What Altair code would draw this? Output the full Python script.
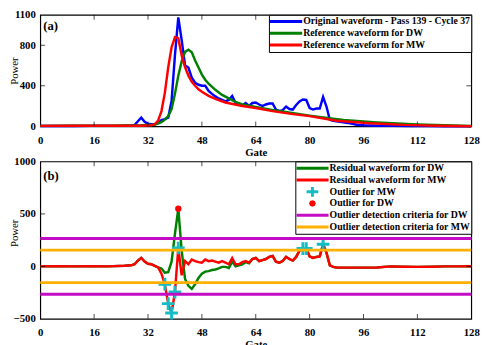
import altair as alt
import pandas as pd

FONT = "Liberation Serif"

# ---------------- axis ticks ----------------
gate_ticks = [0, 16, 32, 48, 64, 80, 96, 112, 128]
inner_gate_ticks = [16, 32, 48, 64, 80, 96, 112]
power_ticks_a = [0, 400, 800, 1100]
inner_power_ticks_a = [400, 800]
power_ticks_b = [-500, 0, 500, 1000]
inner_power_ticks_b = [0, 500]
panel_labels = ["(a)", "(b)"]

# ---------------- panel (a) ----------------
names_a = ["Original waveform - Pass 139 - Cycle 37",
           "Reference waveform for DW",
           "Reference waveform for MW"]
colors_a = ["#0000ff", "#008000", "#ff0000"]

orig_gate = [0, 5, 10, 15, 20, 25,
             27, 28, 29, 30, 31, 32, 33, 34, 35, 36, 37, 38, 39, 40,
             41, 42, 43, 44, 45, 46, 47, 48, 49, 50, 51, 52, 53, 54,
             55, 56, 57, 58, 59, 60, 61, 62, 63, 64, 65, 66, 67, 68,
             69, 70, 71, 72, 73, 74, 75, 76, 77, 78, 79, 80, 81, 82,
             83, 84, 85, 86, 87, 88,
             90, 92, 94, 96, 100, 105, 110, 115, 120, 128]
orig_power = [2, 3, 3, 4, 4, 5,
              8, 12, 50, 85, 45, 25, 20, 20, 30, 62, 70, 85, 250, 700,
              1075, 850, 600, 580, 480, 430, 410, 400, 400, 350, 320, 295, 275, 260,
              245, 260, 300, 230, 215, 205, 230, 200, 230, 235, 215, 200, 215, 225,
              225, 165, 150, 160, 195, 170, 165, 210, 245, 265, 260, 180, 165, 175,
              175, 290, 195, 65, 55, 50,
              40, 30, 15, 10, 5, 4, 3, 2, 1, 0]

dw_gate = [0, 10, 20, 30, 34, 36, 37, 38, 39, 40, 41, 42, 43, 44, 45, 46, 47,
           48, 49, 50, 52, 54, 56, 58, 60, 64, 70, 80, 90, 100, 112, 128]
dw_power = [4, 5, 6, 10, 15, 40, 65, 100, 170, 320, 500, 640, 735, 755, 730, 650, 580,
            510, 460, 420, 360, 310, 275, 240, 215, 190, 155, 105, 62, 38, 18, 2]

mw_gate = [0, 10, 20, 30, 33, 34, 35, 36, 37, 38, 39, 40, 41, 42, 43, 44, 45,
           46, 47, 48, 50, 52, 55, 60, 64, 69, 75, 80, 88, 98, 108, 118, 128]
mw_power = [4, 5, 5, 6, 10, 20, 55, 150, 330, 580, 780, 880, 870, 700, 585, 500, 440,
            400, 365, 340, 300, 270, 235, 200, 180, 150, 120, 100, 55, 30, 14, 6, 0]

# ---------------- panel (b) ----------------
names_b = ["Residual waveform for DW",
           "Residual waveform for MW",
           "Outlier for MW",
           "Outlier for DW",
           "Outlier detection criteria for DW",
           "Outlier detection criteria for MW"]
colors_b = ["#008000", "#ff0000", "#16bcc4", "#ff0000", "#c40cc4", "#ffb000"]
kinds_b = ["line", "line", "cross", "dot", "line", "line"]

res_gate = [0, 5, 10, 15, 20, 25,
            27, 28, 29, 30, 31, 32, 33, 34, 35, 36, 37, 38, 39, 40,
            41, 42, 43, 44, 45, 46, 47, 48, 49, 50, 51, 52, 53, 54,
            55, 56, 57, 58, 59, 60, 61, 62, 63, 64, 65, 66, 67, 68,
            69, 70, 71, 72, 73, 74, 75, 76, 77, 78, 79, 80, 81, 82,
            83, 84, 85, 86, 87, 88,
            90, 92, 95, 100, 104, 108, 112, 116, 120, 124, 128]
res_mw = [0, 2, 0, 2, 0, 5,
          10, 20, 55, 80, 45, 25, 20, 5, -10, -70, -170, -355, -445, -245,
          175, -85, 50, 20, 65, 50, 40, 35, 65, 50, 55, 45, 35, 50,
          35, 20, 80, 20, 20, 40, 50, 35, 70, 80, 50, 60, 70, 90,
          100, 45, 35, 50, 90, 70, 55, 90, 150, 170, 170, 95, 80, 90,
          95, 210, 130, 10, -5, -10,
          -12, -12, -12, -10, 0, -3, -5, -3, 0, 0, 2]
res_dw = [0, 2, 0, 2, 0, 5,
          10, 20, 55, 80, 45, 25, 20, 5, -10, -20, -60, -55, 45, 310,
          549, 150, -120, -185, -215, -170, -110, -70, -50, -45, -35, -30, -20, -5,
          -5, -15, 45, 0, 10, 20, 40, 30, 70, 80, 50, 60, 70, 90,
          100, 45, 35, 50, 90, 70, 55, 90, 150, 170, 170, 95, 80, 90,
          95, 210, 130, 10, -5, -10,
          -12, -12, -12, -10, 0, -3, -5, -3, 0, 0, 2]

outlier_mw_gate = [37, 38, 39, 40, 41, 78, 79, 84]
outlier_mw_power = [-170, -355, -445, -245, 175, 170, 170, 210]
outlier_dw_gate = [41]
outlier_dw_power = [549]

criteria_dw = [265, -265]
criteria_mw = [155, -155]

# ---------------- geometry / style ----------------
W = 441
HA = 114
HB = 161

# legend symbol paths (unit = sqrt(symbolSize)/2 = 4 px)
LINE = "M-1.375,0H6.875"
CROSS = "M1.25,0H4.25M2.75,-1.25V1.25"
DOT = ("M3.2,0L3.07,0.32L2.75,0.45L2.43,0.32L2.3,0"
       "L2.43,-0.32L2.75,-0.45L3.07,-0.32Z")
SHAPES = {"line": LINE, "cross": CROSS, "dot": DOT}
PLUS = "M-1,0H1M0,-1V1"


def make_legend(row_h):
    return alt.Legend(title=None, orient="top-right", offset=0,
                      strokeColor="black", fillColor="white", padding=1,
                      symbolSize=64, symbolStrokeWidth=3, symbolType=LINE,
                      symbolOpacity=1, rowPadding=0, clipHeight=row_h,
                      labelOffset=23, labelLimit=400, labelFontSize=10,
                      labelFontWeight="bold", labelColor="black", labelFont=FONT)


x_scale = alt.Scale(domain=[0, 128], nice=False, zero=False)
x_axis = alt.Axis(values=gate_ticks, title="Gate", labelFlush=False, labelOverlap=False,
                  labelPadding=8.5, titlePadding=1, tickSize=0, ticks=False, domain=False,
                  grid=False, format="d")


def y_axis(values, title_y):
    return alt.Axis(values=values, title="Power", titleX=-23, titleY=title_y,
                    titleAngle=-90, titleAlign="center", titleBaseline="alphabetic",
                    titleFontWeight="normal", labelPadding=5, tickSize=0, ticks=False,
                    labelFlush=False, labelBaseline="middle",
                    domain=False, grid=False, labelOverlap=False, format="d")


def series_df(gates, powers, name):
    return pd.DataFrame({"gate": gates, "power": powers, "series": name})


def tick_layers(H, xe, ye, inner_y):
    gx = pd.DataFrame({"gate": inner_gate_ticks})
    py = pd.DataFrame({"power": inner_y})
    base = dict(color="black", thickness=1, size=5)
    return [
        alt.Chart(gx).mark_tick(orient="vertical", yOffset=-2.5, **base).encode(x=xe, y=alt.value(H)),
        alt.Chart(gx).mark_tick(orient="vertical", yOffset=2.5, **base).encode(x=xe, y=alt.value(0)),
        alt.Chart(py).mark_tick(orient="horizontal", xOffset=2.5, **base).encode(y=ye, x=alt.value(0)),
        alt.Chart(py).mark_tick(orient="horizontal", xOffset=-2.5, **base).encode(y=ye, x=alt.value(W)),
    ]


xe = alt.X("gate:Q", scale=x_scale, axis=x_axis)

# ---------------- Panel (a) ----------------
ya_scale = alt.Scale(domain=[0, 1100], nice=False, zero=False)
ye_a = alt.Y("power:Q", scale=ya_scale, axis=y_axis(power_ticks_a, 57))
color_a = alt.Color("series:N", scale=alt.Scale(domain=names_a, range=colors_a),
                    legend=make_legend(11.7))

layers_a = []
for g, p, n in [(orig_gate, orig_power, names_a[0]),
                (dw_gate, dw_power, names_a[1]),
                (mw_gate, mw_power, names_a[2])]:
    layers_a.append(alt.Chart(series_df(g, p, n)).mark_line(strokeWidth=2.5)
                    .encode(x=xe, y=ye_a, color=color_a))
layers_a += tick_layers(HA, xe, ye_a, inner_power_ticks_a)
layers_a.append(alt.Chart(pd.DataFrame({"t": [panel_labels[0]]}))
                .mark_text(align="left", baseline="middle", fontSize=13, fontWeight="bold",
                           font=FONT, color="black")
                .encode(text="t:N", x=alt.value(3), y=alt.value(11)))
chart_a = alt.layer(*layers_a).properties(width=W, height=HA)

# ---------------- Panel (b) ----------------
yb_scale = alt.Scale(domain=[-500, 1000], nice=False, zero=False)
ye_b = alt.Y("power:Q", scale=yb_scale, axis=y_axis(power_ticks_b, 73))
color_b = alt.Color("series:N", scale=alt.Scale(domain=names_b, range=colors_b),
                    legend=make_legend(12))
shape_b = alt.Shape("series:N",
                    scale=alt.Scale(domain=names_b, range=[SHAPES[k] for k in kinds_b]),
                    legend=make_legend(12))

layers_b = [
    alt.Chart(series_df(res_gate, res_dw, names_b[0])).mark_line(strokeWidth=2.5)
    .encode(x=xe, y=ye_b, color=color_b),
    alt.Chart(series_df(res_gate, res_mw, names_b[1])).mark_line(strokeWidth=2.5)
    .encode(x=xe, y=ye_b, color=color_b),
    alt.Chart(series_df(outlier_mw_gate, outlier_mw_power, names_b[2]))
    .mark_point(shape=PLUS, size=169, strokeWidth=3, filled=False, opacity=1)
    .encode(x=xe, y=ye_b, color=color_b),
    alt.Chart(series_df(outlier_dw_gate, outlier_dw_power, names_b[3]))
    .mark_circle(size=42, opacity=1)
    .encode(x=xe, y=ye_b, color=color_b),
    alt.Chart(pd.DataFrame({"power": criteria_dw, "series": names_b[4]}))
    .mark_rule(strokeWidth=3)
    .encode(y=ye_b, color=color_b),
    alt.Chart(pd.DataFrame({"power": criteria_mw, "series": names_b[5]}))
    .mark_rule(strokeWidth=3)
    .encode(y=ye_b, color=color_b),
    # legend-only layer carrying the per-entry symbol shapes
    alt.Chart(pd.DataFrame({"gate": [], "power": [], "series": []}))
    .mark_point(filled=False, opacity=1)
    .encode(x=xe, y=ye_b, color=color_b, shape=shape_b),
]
layers_b += tick_layers(HB, xe, ye_b, inner_power_ticks_b)
layers_b.append(alt.Chart(pd.DataFrame({"t": [panel_labels[1]]}))
                .mark_text(align="left", baseline="middle", fontSize=13, fontWeight="bold",
                           font=FONT, color="black")
                .encode(text="t:N", x=alt.value(3), y=alt.value(15)))
chart_b = alt.layer(*layers_b).properties(width=W, height=HB)

chart = (
    alt.vconcat(chart_a, chart_b, spacing=36, bounds="flush")
    .resolve_scale(color="independent", shape="independent", y="independent")
    .resolve_legend(color="independent", shape="independent")
    .properties(padding={"left": 0, "top": -4, "right": 2, "bottom": 0})
    .configure(font=FONT)
    .configure_view(stroke="black", strokeWidth=1.2)
    .configure_axis(labelFontSize=11, labelFontWeight="bold", labelColor="black",
                    titleFontSize=11, titleColor="black", titleFontWeight="bold",
                    labelFont=FONT, titleFont=FONT)
)

chart.save("out.html", embed_options={"renderer": "svg", "actions": False})
